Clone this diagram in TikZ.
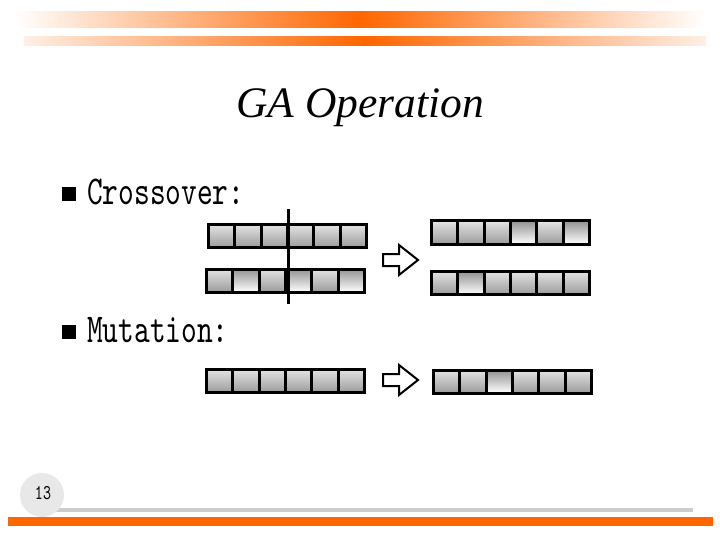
\documentclass[tikz,border=0pt]{standalone}
\usepackage{fontspec}
\setmainfont{Liberation Serif}
\newfontfamily\narrowfont[FakeStretch=0.73]{lmmono10-regular.otf}
\usetikzlibrary{positioning}
\definecolor{slideorange}{HTML}{FF6600}
\definecolor{peach}{HTML}{FFEFE6}
\definecolor{rulegray}{HTML}{CCCCCC}
\definecolor{pagegray}{HTML}{E8E8E8}

% one chromosome: name, left edge, centre y, list of cell kinds
\newcommand{\chromrow}[4]{%
  \foreach \s [count=\i] in {#4}
    \node[cell\s] (#1-\i) at ({#2+1.5+26.33*(\i-0.5)},#3) {};
}

\begin{document}
\begin{tikzpicture}[
    x=1pt, y=-1pt,
    cell/.style={draw, line width=3pt, minimum width=26.33pt, minimum height=23pt, inner sep=0pt},
    cellA/.style={cell, top color=gray!22, bottom color=gray!78},
    cellB/.style={cell, top color=gray!85, bottom color=white},
    bullet/.style={fill=black, minimum size=13.5pt, inner sep=0pt},
    itemtext/.style={font=\narrowfont\fontsize{41}{44}\selectfont, anchor=base west, inner sep=0pt},
    hollowarrow/.style={draw, line width=2pt, fill=white, line join=miter},
    cutline/.style={line width=3pt},
]
\useasboundingbox (0,0) rectangle (720,540);

% header bars
\shade[left color=white, right color=white, middle color=slideorange] (15,12) rectangle (706,28);
\shade[left color=peach, right color=peach, middle color=slideorange] (24,37) rectangle (706,46);

\node[font=\fontsize{43.5}{50}\selectfont\itshape, anchor=base] (title) at (360,118) {GA Operation};

\node[bullet] (xbullet) at (69,194) {};
\node[itemtext] (xlabel) at (87,205) {Crossover:};
\node[bullet] (mbullet) at (69,332) {};
\node[itemtext] (mlabel) at (87,342) {Mutation:};

% crossover
\chromrow{pa}{207}{236}{A,A,A,A,A,A}
\chromrow{pb}{205}{280.5}{A,B,A,B,A,B}
\chromrow{ca}{430}{232.5}{A,A,A,B,A,B}
\chromrow{cb}{430}{283}{A,B,A,A,A,A}
\draw[cutline] ([yshift=14pt]pa-3.north east) -- ++(0,95);

% mutation
\chromrow{ma}{205}{381}{A,A,A,A,A,A}
\chromrow{mb}{432}{381.5}{A,A,B,A,A,A}

\foreach \y in {260,380}
  \draw[hollowarrow] (383,\y-6) -- ++(16,0) -- ++(0,-9) -- ++(19,15) -- ++(-19,15) -- ++(0,-9) -- ++(-16,0) -- cycle;

% footer
\fill[rulegray] (28,508) rectangle (693,512);
\node[circle, fill=pagegray, minimum size=44pt, inner sep=0pt] (pagecirc) at (42,495) {};
\node[font=\narrowfont\fontsize{21}{24}\selectfont, anchor=base] (pagenum) at (43,499) {13};
\fill[slideorange] (8,517) rectangle (713,526);
\end{tikzpicture}
\end{document}
